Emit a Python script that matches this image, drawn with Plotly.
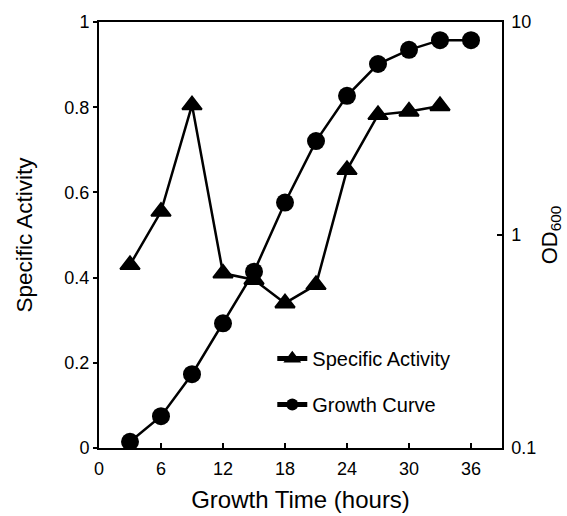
import plotly.graph_objects as go

# Sampling times (hours)
activity_hours = [3, 6, 9, 12, 15, 18, 21, 24, 27, 30, 33]
growth_hours = [3, 6, 9, 12, 15, 18, 21, 24, 27, 30, 33, 36]

# Specific activity (left axis, linear)
specific_activity = [0.43, 0.555, 0.805, 0.41, 0.395, 0.34, 0.383, 0.653, 0.782, 0.79, 0.803]

# Growth curve, OD600 (right axis, log)
od600 = [0.107, 0.141, 0.222, 0.385, 0.673, 1.42, 2.76, 4.50, 6.35, 7.40, 8.22, 8.22]

x_ticks = [0, 6, 12, 18, 24, 30, 36]
left_ticks = [0, 0.2, 0.4, 0.6, 0.8, 1]
left_ticktext = ["0", "0.2", "0.4", "0.6", "0.8", "1"]
right_ticks = [0.1, 1, 10]
right_ticktext = ["0.1", "1", "10"]

FONT = "Liberation Sans, Arial, Helvetica, sans-serif"

fig = go.Figure()

fig.add_trace(go.Scatter(
    x=activity_hours, y=specific_activity,
    name="Specific Activity", legendgroup="a",
    mode="lines+markers",
    line=dict(color="black", width=2.5),
    marker=dict(symbol="triangle-up", size=17, color="black",
                line=dict(color="black", width=2)),
    yaxis="y",
))

fig.add_trace(go.Scatter(
    x=growth_hours, y=od600,
    name="Growth Curve", legendgroup="b",
    mode="lines+markers",
    line=dict(color="black", width=2.5),
    marker=dict(symbol="circle", size=18, color="black"),
    yaxis="y2",
))

axis_font = dict(family=FONT, size=18, color="black")

fig.update_layout(
    width=567, height=516,
    margin=dict(l=99, r=65, t=22, b=68),
    paper_bgcolor="white", plot_bgcolor="white",
    font=dict(family=FONT, color="black"),
    showlegend=True,
    legend=dict(
        x=0.43, y=0.256, xanchor="left", yanchor="top",
        font=dict(family=FONT, size=20, color="black"),
        bgcolor="rgba(0,0,0,0)", borderwidth=0,
        traceorder="grouped", tracegroupgap=17,
        itemsizing="constant",
    ),
    xaxis=dict(
        range=[0, 39], tickvals=x_ticks, automargin=False,
        ticks="inside", ticklen=5, tickwidth=1.5, tickcolor="black",
        showline=True, linecolor="black", linewidth=2, mirror=True,
        showgrid=False, zeroline=False,
        tickfont=axis_font, ticklabelstandoff=3,
        title=dict(text="Growth Time (hours)",
                   font=dict(family=FONT, size=24, color="black"), standoff=14),
    ),
    yaxis=dict(
        range=[0, 1], tickvals=left_ticks, ticktext=left_ticktext, automargin=False,
        ticks="outside", ticklen=4, tickwidth=1.5, tickcolor="black",
        showline=True, linecolor="black", linewidth=2,
        showgrid=False, zeroline=False,
        tickfont=axis_font,
        title=dict(text="Specific Activity",
                   font=dict(family=FONT, size=22.5, color="black"), standoff=25),
    ),
    yaxis2=dict(
        type="log", range=[-1, 1], overlaying="y", side="right", automargin=False,
        tickvals=right_ticks, ticktext=right_ticktext,
        ticks="inside", ticklen=5, tickwidth=1.5, tickcolor="black",
        showline=True, linecolor="black", linewidth=1.5,
        showgrid=False, zeroline=False,
        tickfont=axis_font, ticklabelstandoff=4,
        title=dict(text="OD<sub>600</sub>",
                   font=dict(family=FONT, size=22, color="black"), standoff=6),
    ),
)

fig.write_html("out.html")
